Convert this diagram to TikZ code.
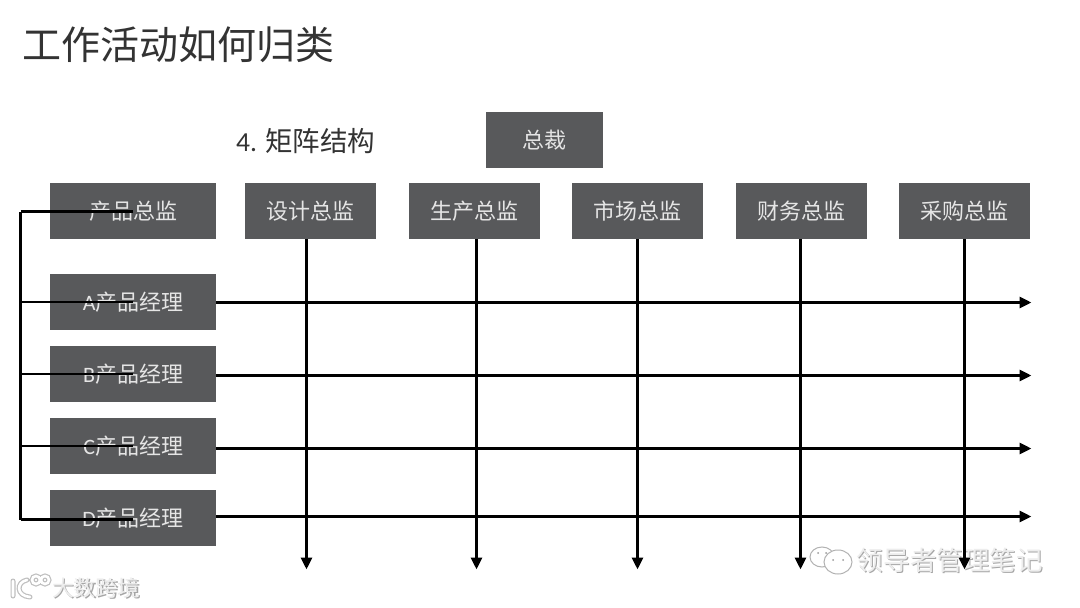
\documentclass[tikz,border=0pt]{standalone}
\usepackage{fontspec}
\setmainfont{Noto Sans CJK SC}[Scale=1]
\newfontfamily\latinfont{Carlito}
\usetikzlibrary{arrows.meta}
\definecolor{boxgray}{HTML}{58595B}
\definecolor{titlegray}{HTML}{333333}
\tikzset{
  x=1pt,y=-1pt,
  boxnode/.style={fill=boxgray,text=white!90!black,inner sep=0pt,font=\fontsize{22}{22}\selectfont,anchor=north west},
  heavyline/.style={black,line width=3.4pt,-{Triangle[length=12pt,width=11pt]}},
  thinline/.style={black,line width=2.4pt},
  wmark/.style={text=white!93!black,inner sep=0pt},
  wshadow/.style={text=black!35,inner sep=0pt},
}
\newcommand{\bx}[6]{\node[boxnode,minimum width=#3pt,minimum height=#4pt] (#5) at (#1,#2) {#6};}
\begin{document}
\begin{tikzpicture}
\useasboundingbox (0,0) rectangle (1080,608);
\fill[white] (0,0) rectangle (1080,608);
\node[anchor=west,inner sep=0pt,text=titlegray,font=\fontsize{39}{39}\selectfont] (title) at (22,45) {工作活动如何归类};
\node[anchor=west,inner sep=0pt,text=titlegray,font=\fontsize{27.5}{27.5}\selectfont] (sub) at (236,141) {{\latinfont 4.} 矩阵结构};
\bx{486}{112}{117}{56}{ceo}{总裁}
\bx{50}{183}{166}{56}{prod}{产品总监}
\bx{245}{183}{131}{56}{d1}{设计总监}
\bx{409}{183}{131}{56}{d2}{生产总监}
\bx{572}{183}{131}{56}{d3}{市场总监}
\bx{736}{183}{131}{56}{d4}{财务总监}
\bx{899}{183}{131}{56}{d5}{采购总监}
\bx{50}{274}{166}{56}{ma}{{\latinfont A}产品经理}
\bx{50}{346}{166}{56}{mb}{{\latinfont B}产品经理}
\bx{50}{418}{166}{56}{mc}{{\latinfont C}产品经理}
\bx{50}{490}{166}{56}{md}{{\latinfont D}产品经理}
% watermarks
\node[wshadow,font=\fontsize{26.6}{26.6}\selectfont] (wa0) at (951,561) {领导者管理笔记};
\node[wmark,font=\fontsize{26.6}{26.6}\selectfont] (wa) at (950,560) {领导者管理笔记};
\node[wshadow,font=\fontsize{22}{22}\selectfont] (wb0) at (97,589) {大数跨境};
\node[wmark,font=\fontsize{22}{22}\selectfont] (wb) at (96,588) {大数跨境};
% watermark icons
\draw[black!30,fill=white,line width=1pt] (822,557) ellipse (12 and 10);
\draw[black!30,fill=white,line width=1pt] (838,562) ellipse (14 and 12);
\fill[black!40] (818,553) circle (1) (826,553) circle (1) (833,560) circle (1) (843,560) circle (1);
\draw[black!25,line width=5pt,line cap=round] (13,581) -- (13,596) (27,580) .. controls (16,582) and (16,596) .. (30,597) (36,580) circle (4) (45,580) circle (4);
\draw[white,line width=2.6pt,line cap=round] (13,581) -- (13,596) (27,580) .. controls (16,582) and (16,596) .. (30,597) (36,580) circle (4) (45,580) circle (4);
% end points
\coordinate (e1) at (306.5,569.5);
\coordinate (e2) at (476.5,569.5);
\coordinate (e3) at (637.5,569.5);
\coordinate (e4) at (800.5,569.5);
\coordinate (e5) at (964.5,569.5);
\coordinate (ra) at (1031.5,302.5);
\coordinate (rb) at (1031.5,375.5);
\coordinate (rc) at (1031.5,448.5);
\coordinate (rd) at (1031.5,516.5);
\coordinate (tp) at (20.5,211.5);
\coordinate (bt) at (20.5,519.5);
% heavy arrows
\foreach \d/\e in {d1/e1,d2/e2,d3/e3,d4/e4,d5/e5}
  \draw[heavyline] (\e |- \d.south) -- (\e);
\foreach \m/\r in {ma/ra,mb/rb,mc/rc,md/rd}
  \draw[heavyline] (\m.east |- \r) -- (\r);
% left bracket
\draw[thinline] (tp) -- (bt);
\draw[thinline] (tp) -- (prod.center |- tp);
\draw[thinline] (tp |- ma.center) -- (ma.center);
\draw[thinline] (tp |- mb.center) -- (mb.center);
\draw[thinline] (tp |- mc.center) -- (mc.center);
\draw[thinline] (bt) -- (md.center |- bt);
\end{tikzpicture}
\end{document}
